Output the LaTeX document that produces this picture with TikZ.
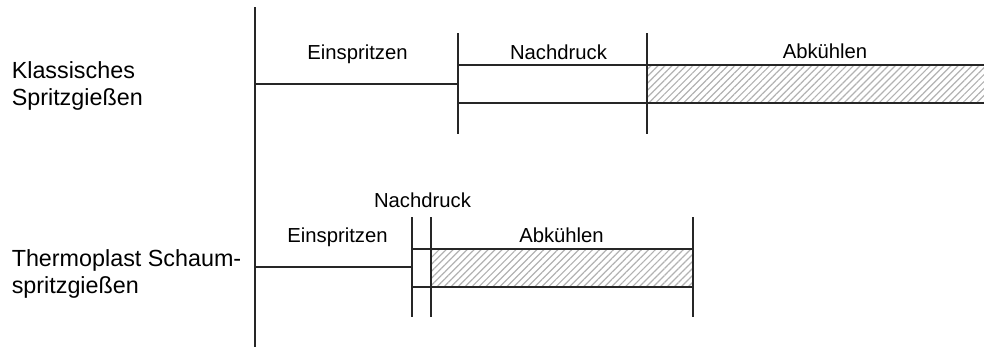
\documentclass[tikz,border=0pt]{standalone}
\usepackage{fontspec}
\setmainfont{Liberation Sans}
\usetikzlibrary{patterns.meta}
\begin{document}
\begin{tikzpicture}[x=0.75pt,y=-0.75pt,
  axis/.style={line width=1.4pt,black!85},
  bar/.style={line width=1.1pt,black!85},
  hatch/.style={pattern={Lines[angle=45,distance=3.7pt,line width=0.9pt]},pattern color=black!30},
  phase/.style={font=\fontsize{15.2}{18}\selectfont,anchor=base,inner sep=0pt},
  proc/.style={font=\fontsize{17.5}{20}\selectfont,anchor=base west,inner sep=0pt}]
\useasboundingbox (0,0) rectangle (984,347);
% top row
\fill[hatch] (647,65) rectangle (984,103);
\draw[axis] (255,7) coordinate (atop) -- (255,347) coordinate (abot);
\draw[bar] (255,84) coordinate (k0) -- (458,84) coordinate (k1);
\draw[axis] (458,33) -- (458,134);
\draw[bar] (458,65) -- (984,65);
\draw[bar] (458,103) -- (984,103);
\draw[axis] (647,33) -- (647,134);
\node[phase] (kein) at (357.5,59.5) {Einspritzen};
\node[phase] (knach) at (558.5,59.5) {Nachdruck};
\node[phase] (kabk) at (825,58.5) {Abkühlen};
\node[proc] (kl1) at (11.5,78) {Klassisches};
\node[proc] (kl2) at (11.5,105) {Spritzgießen};
% bottom row
\fill[hatch] (431,249) rectangle (693,287);
\draw[bar] (255,267) -- (412,267);
\draw[axis] (412,217) -- (412,317);
\draw[axis] (431,217) -- (431,317);
\draw[axis] (693,217) -- (693,317);
\draw[bar] (412,249) -- (693,249);
\draw[bar] (412,287) -- (693,287);
\node[phase] (tein) at (337.5,242) {Einspritzen};
\node[phase] (tnach) at (422.5,207) {Nachdruck};
\node[phase] (tabk) at (561.5,242) {Abkühlen};
\node[proc] (tl1) at (11.5,266.5) {Thermoplast Schaum-};
\node[proc] (tl2) at (11.5,293) {spritzgießen};
\end{tikzpicture}
\end{document}
